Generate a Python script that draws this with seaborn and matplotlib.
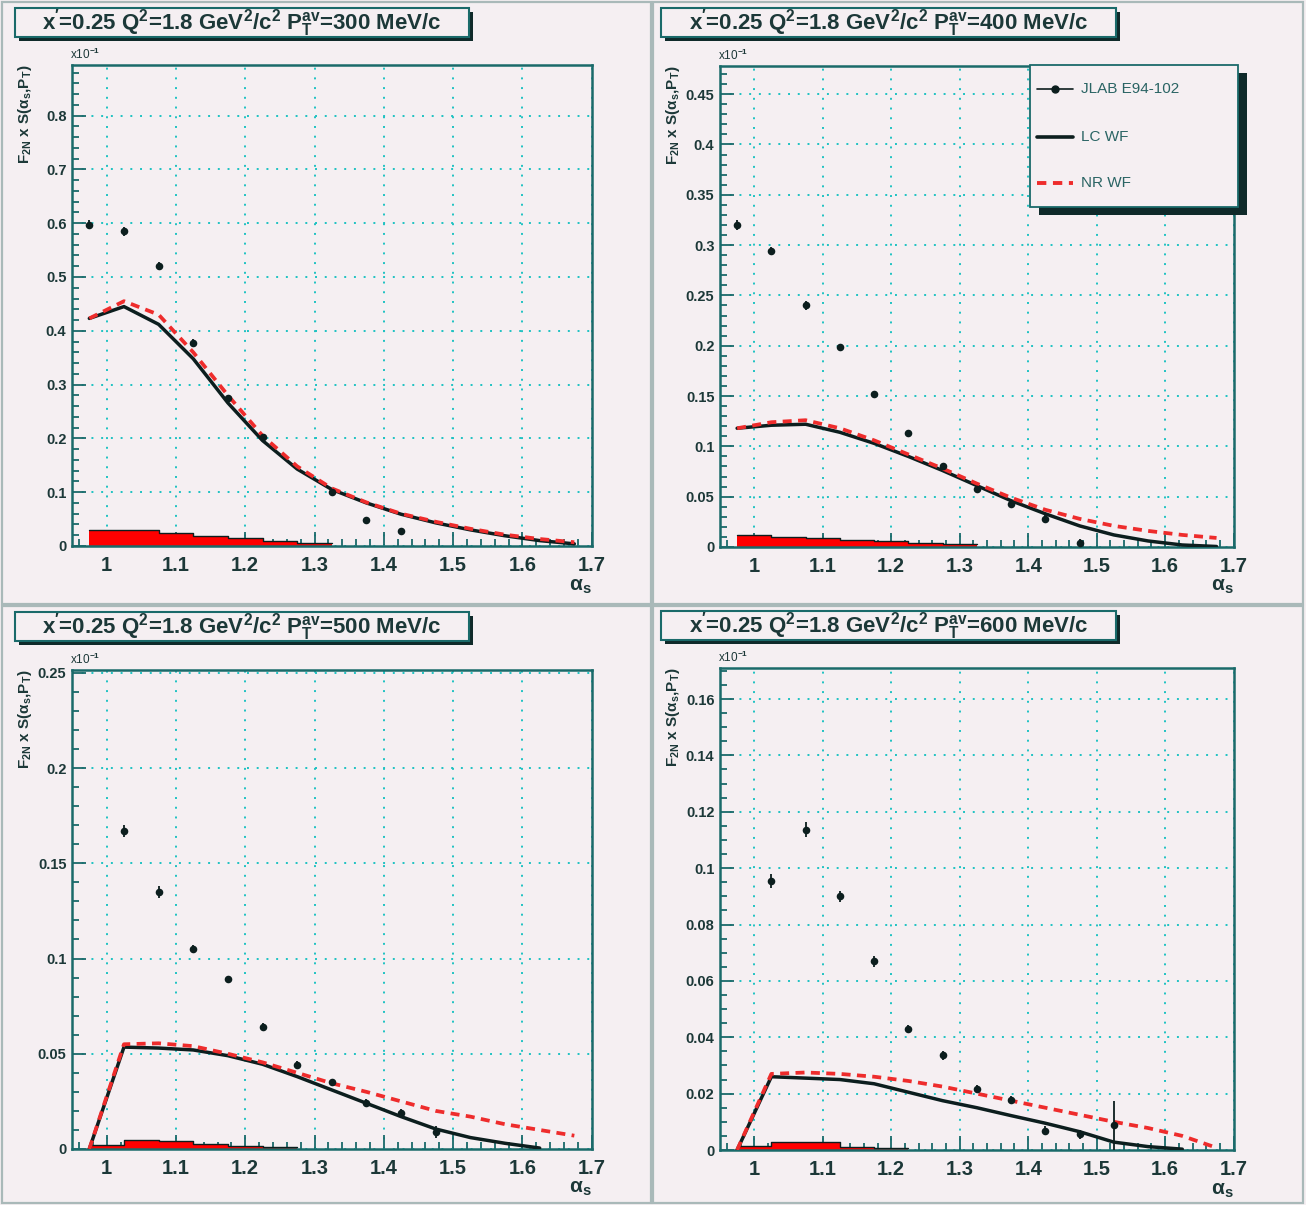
import numpy as np
import matplotlib
matplotlib.use("Agg")
import matplotlib.pyplot as plt
import seaborn as sns
from matplotlib.patches import Rectangle
from matplotlib.lines import Line2D
from matplotlib.ticker import MultipleLocator, FuncFormatter

# ------------------------------------------------------------------ data
pt_values = [300, 400, 500, 600]

data300_x = [0.975, 1.025, 1.075, 1.125, 1.175, 1.225, 1.325, 1.375, 1.425]
data300_y = [0.597, 0.585, 0.520, 0.378, 0.275, 0.203, 0.100, 0.049, 0.027]
data300_err = [0.008, 0.008, 0.007, 0.006, 0.005, 0.004, 0.004, 0.004, 0.005]
lc300_x = [0.975, 1.025, 1.075, 1.125, 1.175, 1.225, 1.275, 1.325, 1.375, 1.425, 1.475, 1.525, 1.575, 1.625, 1.675]
lc300_y = [0.423, 0.445, 0.412, 0.348, 0.266, 0.196, 0.143, 0.105, 0.080, 0.059, 0.043, 0.030, 0.019, 0.010, 0.004]
nr300_x = [0.975, 1.025, 1.075, 1.125, 1.175, 1.225, 1.275, 1.325, 1.375, 1.425, 1.475, 1.525, 1.575, 1.625, 1.675]
nr300_y = [0.423, 0.455, 0.430, 0.360, 0.280, 0.205, 0.148, 0.107, 0.081, 0.060, 0.045, 0.032, 0.021, 0.013, 0.007]
hist300_edges = [0.975, 1.025, 1.075, 1.125, 1.175, 1.225, 1.275, 1.325]
hist300_vals = [0.030, 0.029, 0.025, 0.019, 0.014, 0.009, 0.005]

data400_x = [0.975, 1.025, 1.075, 1.125, 1.175, 1.225, 1.275, 1.325, 1.375, 1.425, 1.475]
data400_y = [0.320, 0.294, 0.240, 0.199, 0.152, 0.113, 0.080, 0.058, 0.043, 0.028, 0.004]
data400_err = [0.005, 0.004, 0.004, 0.003, 0.003, 0.003, 0.003, 0.003, 0.003, 0.004, 0.004]
lc400_x = [0.975, 1.025, 1.075, 1.125, 1.175, 1.225, 1.275, 1.325, 1.375, 1.425, 1.475, 1.525, 1.575, 1.625, 1.675]
lc400_y = [0.118, 0.121, 0.122, 0.114, 0.103, 0.090, 0.076, 0.061, 0.046, 0.033, 0.021, 0.012, 0.006, 0.002, 0.0005]
nr400_x = [0.975, 1.025, 1.075, 1.125, 1.175, 1.225, 1.275, 1.325, 1.375, 1.425, 1.475, 1.525, 1.575, 1.625, 1.675]
nr400_y = [0.118, 0.124, 0.126, 0.118, 0.106, 0.092, 0.078, 0.063, 0.049, 0.037, 0.028, 0.021, 0.016, 0.012, 0.009]
hist400_edges = [0.975, 1.025, 1.075, 1.125, 1.175, 1.225, 1.275, 1.325]
hist400_vals = [0.012, 0.010, 0.009, 0.007, 0.006, 0.004, 0.003]

data500_x = [1.025, 1.075, 1.125, 1.175, 1.225, 1.275, 1.325, 1.375, 1.425, 1.475]
data500_y = [0.167, 0.135, 0.105, 0.089, 0.064, 0.044, 0.035, 0.024, 0.019, 0.009]
data500_err = [0.003, 0.003, 0.002, 0.002, 0.002, 0.002, 0.002, 0.002, 0.002, 0.003]
lc500_x = [0.975, 1.025, 1.075, 1.125, 1.175, 1.225, 1.275, 1.325, 1.375, 1.425, 1.475, 1.525, 1.575, 1.625]
lc500_y = [0.0, 0.0535, 0.053, 0.052, 0.049, 0.0445, 0.038, 0.031, 0.024, 0.017, 0.0105, 0.006, 0.003, 0.0005]
nr500_x = [0.975, 1.025, 1.075, 1.125, 1.175, 1.225, 1.275, 1.325, 1.375, 1.425, 1.475, 1.525, 1.575, 1.625, 1.675]
nr500_y = [0.0, 0.055, 0.0555, 0.054, 0.050, 0.0455, 0.040, 0.0345, 0.030, 0.025, 0.020, 0.017, 0.013, 0.010, 0.007]
hist500_edges = [0.975, 1.025, 1.075, 1.125, 1.175, 1.225, 1.275]
hist500_vals = [0.002, 0.0045, 0.004, 0.0025, 0.0015, 0.001]

data600_x = [1.025, 1.075, 1.125, 1.175, 1.225, 1.275, 1.325, 1.375, 1.425, 1.475, 1.525]
data600_y = [0.0955, 0.1137, 0.0900, 0.0670, 0.0430, 0.0336, 0.0217, 0.0178, 0.0069, 0.0055, 0.0087]
data600_err = [0.0025, 0.0025, 0.002, 0.002, 0.0015, 0.0015, 0.0012, 0.0012, 0.0015, 0.0015, 0.0088]
lc600_x = [0.975, 1.025, 1.075, 1.125, 1.175, 1.225, 1.275, 1.325, 1.375, 1.425, 1.475, 1.525, 1.575, 1.625]
lc600_y = [0.0, 0.026, 0.0255, 0.025, 0.0235, 0.0205, 0.0175, 0.015, 0.0122, 0.0095, 0.0065, 0.0028, 0.0012, 0.0003]
nr600_x = [0.975, 1.025, 1.075, 1.125, 1.175, 1.225, 1.275, 1.325, 1.375, 1.425, 1.475, 1.525, 1.575, 1.625, 1.675]
nr600_y = [0.0, 0.027, 0.0275, 0.027, 0.026, 0.0245, 0.0225, 0.020, 0.0175, 0.015, 0.0125, 0.010, 0.0078, 0.005, 0.0008]
hist600_edges = [0.975, 1.025, 1.075, 1.125, 1.175, 1.225]
hist600_vals = [0.0015, 0.0028, 0.0028, 0.0012, 0.0008]

ylims = [0.894, 0.478, 0.2515, 0.171]
ymajor = [0.1, 0.05, 0.05, 0.02]
yminor = [0.02, 0.01, 0.01, 0.005]
legend_labels = ["JLAB E94-102", "LC WF", "NR WF"]
xlabel_text = r"$\alpha_{s}$"
ylabel_text = r"F$_{2N}$ x S($\alpha_{s}$,P$_{T}$)"

# ------------------------------------------------------------------ style
sns.set_theme(style="ticks")
plt.rcParams["font.family"] = ["Liberation Sans", "DejaVu Sans"]
plt.rcParams["mathtext.fontset"] = "custom"
plt.rcParams["mathtext.rm"] = "Liberation Sans:bold"
plt.rcParams["mathtext.it"] = "Liberation Sans:italic:bold"
plt.rcParams["mathtext.bf"] = "Liberation Sans:bold"
plt.rcParams["mathtext.default"] = "rm"

BG = "#f5eff2"
AX = "#1a6a6a"
TXT = "#1c3838"
DARK = "#0c1e1e"
RED = "#ee2c2c"
GRID = "#1fc2c2"
SHADOW = "#0f2a2a"

W, H = 1306, 1205
fig = plt.figure(figsize=(W / 100, H / 100), dpi=100, facecolor=BG)


def fx(x):
    return x / W


def fy(y):
    return 1 - y / H


# pad frames
for (x0, y0, x1, y1) in [(2, 2, 651, 604), (653, 2, 1303, 604), (2, 606, 651, 1203), (653, 606, 1303, 1203)]:
    fig.add_artist(Rectangle((fx(x0), fy(y1)), (x1 - x0) / W, (y1 - y0) / H, transform=fig.transFigure,
                             facecolor="none", edgecolor="#a9b9b9", lw=1.6, zorder=0))

axes_px = [(72, 65, 592, 546), (720, 66, 1234, 547), (72, 670, 592, 1149), (720, 668, 1234, 1150)]
title_px = [(15, 8, 469, 37), (661, 8, 1116, 37), (15, 612, 469, 641), (661, 611, 1116, 640)]

panels = [
    (data300_x, data300_y, data300_err, lc300_x, lc300_y, nr300_x, nr300_y, hist300_edges, hist300_vals),
    (data400_x, data400_y, data400_err, lc400_x, lc400_y, nr400_x, nr400_y, hist400_edges, hist400_vals),
    (data500_x, data500_y, data500_err, lc500_x, lc500_y, nr500_x, nr500_y, hist500_edges, hist500_vals),
    (data600_x, data600_y, data600_err, lc600_x, lc600_y, nr600_x, nr600_y, hist600_edges, hist600_vals),
]

fmt = FuncFormatter(lambda v, p: f"{v:g}" if abs(v) > 1e-9 else "0")

for i, (dx, dy, de, lx, ly, nx, ny, he, hv) in enumerate(panels):
    l, t, r, b = axes_px[i]
    ax = fig.add_axes([fx(l), fy(b), (r - l) / W, (b - t) / H])
    ax.set_facecolor(BG)

    # red histogram
    edges = np.array(he)
    vals = np.append(np.array(hv), hv[-1])
    ax.fill_between(edges, vals, step="post", color="#ff0000", lw=0, zorder=2)
    ax.step(edges, vals, where="post", color=DARK, lw=1.0, zorder=3)

    # curves
    sns.lineplot(x=lx, y=ly, ax=ax, color=DARK, lw=2.5, sort=False, estimator=None, zorder=4)
    sns.lineplot(x=nx, y=ny, ax=ax, color=RED, lw=2.7, sort=False, estimator=None, zorder=5,
                 linestyle=(0, (2.4, 1.7)))

    # data
    ax.errorbar(dx, dy, yerr=de, fmt="none", ecolor=DARK, elinewidth=1.3, capsize=0, zorder=6)
    sns.scatterplot(x=dx, y=dy, ax=ax, color=DARK, s=30, linewidth=0, zorder=7)

    ax.set_xlim(0.95, 1.7005)
    ax.set_ylim(0, ylims[i])
    ax.xaxis.set_major_locator(MultipleLocator(0.1))
    ax.xaxis.set_minor_locator(MultipleLocator(0.02))
    ax.yaxis.set_major_locator(MultipleLocator(ymajor[i]))
    ax.yaxis.set_minor_locator(MultipleLocator(yminor[i]))
    ax.xaxis.set_major_formatter(fmt)
    ax.yaxis.set_major_formatter(fmt)
    ax.tick_params(which="both", direction="in", top=False, right=False, color=AX, width=1.3)
    ax.tick_params(which="major", length=10)
    ax.tick_params(which="minor", length=5)
    ax.tick_params(axis="x", labelsize=14.5, labelcolor=TXT, pad=7)
    ax.tick_params(axis="y", labelsize=10.5, labelcolor=TXT, pad=4)
    for lab in ax.get_xticklabels() + ax.get_yticklabels():
        lab.set_fontweight("bold")
    ax.grid(True, which="major", color=GRID, linestyle=(0, (1, 4)), lw=1.4)
    for s in ax.spines.values():
        s.set_color(AX)
        s.set_linewidth(1.8)
    ax.set_xlabel("")
    ax.set_ylabel("")

    # decorations
    fig.text(fx(l - 2), fy(t - 3), r"x10$^{-1}$", fontsize=8.5, color=TXT, ha="left", va="bottom")
    fig.text(fx(l - 47), fy(t), ylabel_text, fontsize=11, color=TXT, rotation=90,
             ha="center", va="top", fontweight="bold")
    fig.text(fx(r - 12), fy(b + 40), xlabel_text, fontsize=15, color=TXT, ha="center", va="center")

    # title box
    x0, y0, x1, y1 = title_px[i]
    fig.add_artist(Rectangle((fx(x0 + 4), fy(y1 + 4)), (x1 - x0) / W, (y1 - y0) / H, transform=fig.transFigure,
                             facecolor=SHADOW, edgecolor="none", zorder=1))
    fig.add_artist(Rectangle((fx(x0), fy(y1)), (x1 - x0) / W, (y1 - y0) / H, transform=fig.transFigure,
                             facecolor=BG, edgecolor=AX, lw=1.5, zorder=2))
    title = (r"x$^{\prime}$=0.25 Q$^{2}$=1.8 GeV$^{2}$/c$^{2}$ P$_{T}^{av}$=" + f"{pt_values[i]} MeV/c")
    fig.text(fx((x0 + x1) / 2), fy((y0 + y1) / 2 + 1), title, ha="center", va="center", fontsize=16,
             fontweight="bold", color=TXT, zorder=3)

# legend (panel 2)
lx0, ly0, lx1, ly1 = 1030, 65, 1238, 207
fig.add_artist(Rectangle((fx(lx0 + 9), fy(ly1 + 8)), (lx1 - lx0) / W, (ly1 - ly0) / H, transform=fig.transFigure,
                         facecolor=SHADOW, edgecolor="none", zorder=8))
fig.add_artist(Rectangle((fx(lx0), fy(ly1)), (lx1 - lx0) / W, (ly1 - ly0) / H, transform=fig.transFigure,
                         facecolor=BG, edgecolor=AX, lw=1.3, zorder=9))
rows = [89, 137, 183]
fig.add_artist(Line2D([fx(1037), fx(1073)], [fy(rows[0])] * 2, transform=fig.transFigure, color=DARK, lw=1.2, zorder=10))
fig.add_artist(Line2D([fx(1055)], [fy(rows[0])], transform=fig.transFigure, color=DARK, marker="o", ms=5, zorder=10))
fig.add_artist(Line2D([fx(1037), fx(1073)], [fy(rows[1])] * 2, transform=fig.transFigure, color=DARK, lw=2.6, zorder=10))
fig.add_artist(Line2D([fx(1037), fx(1073)], [fy(rows[2])] * 2, transform=fig.transFigure, color=RED, lw=2.8,
                      linestyle=(0, (2.4, 1.7)), zorder=10))
for lab, yy in zip(legend_labels, rows):
    fig.text(fx(1081), fy(yy), lab, fontsize=11, color="#2a6464", ha="left", va="center", zorder=11)

fig.savefig("out.png", dpi=100, facecolor=BG)
